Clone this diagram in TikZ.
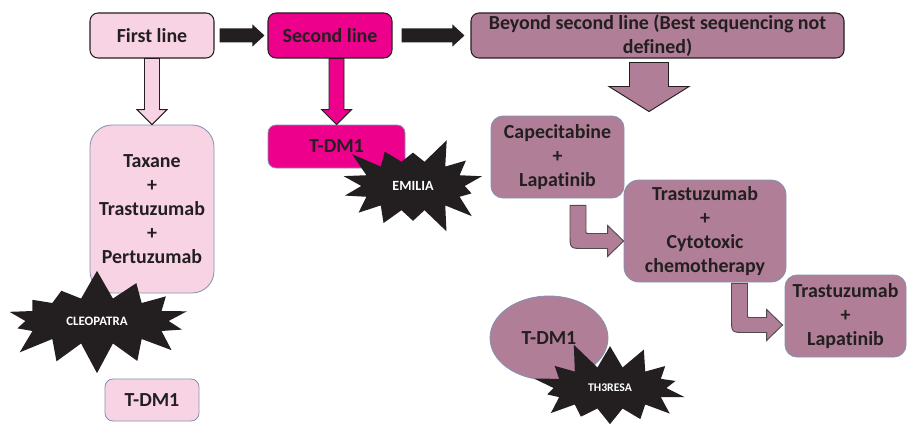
\documentclass[tikz,border=0pt]{standalone}
\usepackage{fontspec}
\setmainfont{Carlito}[Ligatures=NoCommon]
\usepackage{tikz}
\usetikzlibrary{positioning, calc, shapes.geometric, shapes.symbols}

\definecolor{rosa}{HTML}{F8D3E4}
\definecolor{fucsia}{HTML}{EC008C}
\definecolor{malva}{HTML}{B07E96}
\definecolor{bordo}{HTML}{8392B3}
\definecolor{scuro}{HTML}{231F20}

\newdimen\pu \pu=0.03cm

% freccia piena orizzontale: da, a, mezzo fusto, mezza punta, punta
\newcommand{\frecciaO}[5]{%
  \fill[scuro] ($(#1 |- #2)+(0,-#3)$) -- ($(#2)+(-#5,-#3)$) -- ($(#2)+(-#5,-#4)$) -- (#2)
    -- ($(#2)+(-#5,#4)$) -- ($(#2)+(-#5,#3)$) -- ($(#1 |- #2)+(0,#3)$) -- cycle;}
% freccia verticale con bordo: da, a, mezzo fusto, mezza punta, punta, colore
\newcommand{\frecciaV}[6]{%
  \draw[draw=scuro, line width=0.8pt, fill=#6] ($(#2 |- #1)+(-#3,0)$) -- ($(#2)+(-#3,-#5)$)
    -- ($(#2)+(-#4,-#5)$) -- (#2) -- ($(#2)+(#4,-#5)$) -- ($(#2)+(#3,-#5)$) -- ($(#2 |- #1)+(#3,0)$) -- cycle;}
% freccia curva: da, a
\newcommand{\frecciaC}[2]{%
  \draw[draw=scuro!80, line width=0.8pt, fill=malva] ($(#1)+(-8,0)$) -- ($(#1 |- #2)+(-8,-6)$)
    .. controls ($(#1 |- #2)+(-8,7.5)$) .. ($(#1 |- #2)+(6,7.5)$) -- ($(#2)+(-16,7.5)$)
    -- ($(#2)+(-16,15.5)$) -- (#2) -- ($(#2)+(-16,-15.5)$) -- ($(#2)+(-16,-7.5)$)
    -- ($(#1 |- #2)+(10,-7.5)$) .. controls ($(#1 |- #2)+(8,-7.5)$) .. ($(#1 |- #2)+(8,-9.5)$)
    -- ($(#1)+(8,0)$) -- cycle;}

\begin{document}
\begin{tikzpicture}[x=0.03cm, y=-0.03cm,
    testo/.style={text=scuro, font=\fontsize{17}{20.5}\selectfont\bfseries, align=center, inner sep=0pt},
    capo/.style={testo, draw=scuro, line width=0.9pt, rounded corners=8\pu, minimum height=45\pu},
    scatola/.style={testo, draw=bordo, line width=0.7pt, rounded corners=#1},
    scatola/.default=8\pu,
    botto/.style={starburst, fill=scuro, draw=none, text=white,
      font=\fontsize{11}{12}\selectfont\bfseries, starburst points=14}]
  \useasboundingbox (0,0) rectangle (907,423);

  % riga in alto
  \node[capo, fill=rosa, minimum width=124\pu] (first) at (152,35.5) {First line};
  \node[capo, fill=fucsia, minimum width=124\pu] (second) at (330,35.5) {Second line};
  \node[capo, fill=malva, minimum width=373\pu] (beyond) at (657.5,35.5) {Beyond second line (Best sequencing not\\defined)};

  % prima linea
  \node[scatola=22\pu, fill=rosa, minimum width=124\pu, minimum height=168\pu] (taxane) at (152,209) {Taxane\\+\\Trastuzumab\\+\\Pertuzumab};
  \node[botto, inner xsep=20\pu, inner ysep=12\pu, starburst point height=30\pu, random starburst=7] (cleopatra) at (97,321) {CLEOPATRA};
  \node[scatola, fill=rosa, minimum width=94\pu, minimum height=42\pu] (tdmA) at (152,400) {T-DM1};

  % seconda linea
  \node[scatola, fill=fucsia, minimum width=137\pu, minimum height=43\pu] (tdmB) at (336.5,146.5) {T-DM1};
  \node[botto, inner xsep=16\pu, inner ysep=13\pu, starburst point height=27\pu, random starburst=3, font=\fontsize{12}{13}\selectfont\bfseries] (emilia) at (413,186) {EMILIA};

  % oltre la seconda linea
  \node[scatola=12\pu, fill=malva, minimum width=133\pu, minimum height=82\pu] (capec) at (557.5,157) {Capecitabine\\+\\Lapatinib};
  \node[scatola=15\pu, fill=malva, minimum width=162\pu, minimum height=102\pu] (trastc) at (705,231) {Trastuzumab\\+\\Cytotoxic\\chemotherapy};
  \node[scatola=12\pu, fill=malva, minimum width=121\pu, minimum height=82\pu] (trastl) at (845.5,316) {Trastuzumab\\+\\Lapatinib};
  \node[ellipse, testo, draw=bordo, line width=0.7pt, fill=malva, minimum width=118\pu, minimum height=84\pu] (tdmC) at (549,338) {T-DM1};
  \node[botto, inner xsep=18\pu, inner ysep=11\pu, starburst point height=28\pu, random starburst=11, font=\fontsize{10}{11}\selectfont\bfseries] (th3resa) at (610,388) {TH3RESA};

  % frecce nere
  \coordinate (o1) at ($(first.east)+(5,0)$);
  \coordinate (o2) at ($(second.west)+(-3,0)$);
  \coordinate (o3) at ($(second.east)+(9,0)$);
  \coordinate (o4) at ($(beyond.west)+(-6,0)$);
  \frecciaO{o1}{o2}{7}{11}{12}
  \frecciaO{o3}{o4}{7}{11}{12}

  % frecce verso il basso
  \frecciaV{first.south}{taxane.north}{7.5}{15}{15}{rosa}
  \frecciaV{second.south}{tdmB.north |- taxane.north}{7.5}{15}{15}{fucsia}
  \coordinate (b1) at ($(beyond.south)+(-8.5,4)$);
  \coordinate (b2) at ($(beyond.south)+(-8.5,53)$);
  \frecciaV{b1}{b2}{19.5}{40}{25}{malva}

  % frecce curve
  \coordinate (c1) at ($(capec.south)+(20.5,7)$);
  \coordinate (c2) at ($(trastc.west)+(0,10)$);
  \coordinate (c3) at ($(trastc.south)+(34.5,1)$);
  \coordinate (c4) at ($(trastl.west)+(-2,9)$);
  \frecciaC{c1}{c2}
  \frecciaC{c3}{c4}
\end{tikzpicture}
\end{document}
